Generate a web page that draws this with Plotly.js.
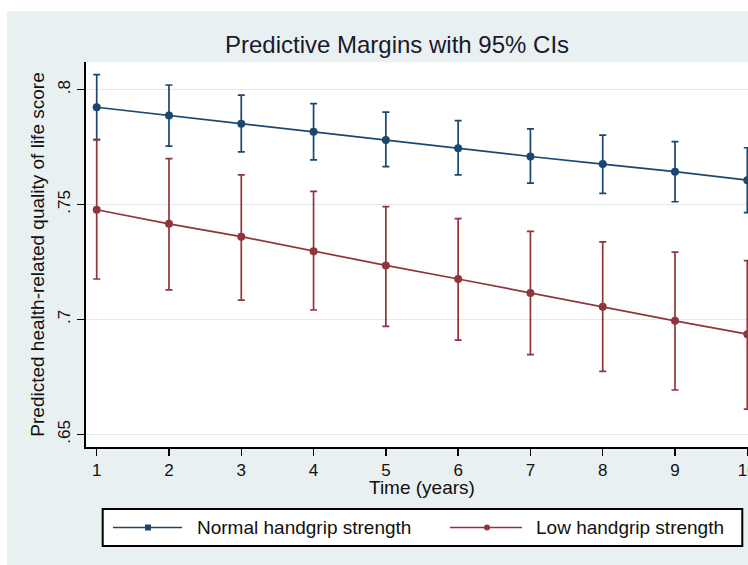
<!DOCTYPE html>
<html>
<head>
<meta charset="utf-8">
<script src="https://cdn.plot.ly/plotly-3.0.1.min.js"></script>
<style>
  html, body { margin: 0; padding: 0; background: #ffffff; width: 748px; height: 565px; overflow: hidden; }
  #chart { position: absolute; left: 7px; top: 11px; width: 770px; height: 554px; }
</style>
</head>
<body>
<div id="chart"></div>
<script>
// ---- data ----
const years = [1, 2, 3, 4, 5, 6, 7, 8, 9, 10];
const xTickLabels = ["1", "2", "3", "4", "5", "6", "7", "8", "9", "10"];
const yTickValues = [0.65, 0.7, 0.75, 0.8];
const yTickLabels = [".65", ".7", ".75", ".8"];

const normalName = "Normal handgrip strength";
const normalMean = [0.7923, 0.7887, 0.7851, 0.7816, 0.7781, 0.7745, 0.7709, 0.7676, 0.7643, 0.7606];
const normalLo   = [0.7781, 0.7754, 0.7729, 0.7694, 0.7665, 0.7629, 0.7593, 0.7548, 0.7512, 0.7465];
const normalHi   = [0.8065, 0.8020, 0.7976, 0.7939, 0.7902, 0.7865, 0.7829, 0.7802, 0.7774, 0.7747];

const lowName = "Low handgrip strength";
const lowMean = [0.7477, 0.7416, 0.7360, 0.7297, 0.7235, 0.7176, 0.7115, 0.7055, 0.6994, 0.6936];
const lowLo   = [0.7176, 0.7129, 0.7084, 0.7041, 0.6970, 0.6910, 0.6847, 0.6774, 0.6693, 0.6610];
const lowHi   = [0.7784, 0.7700, 0.7629, 0.7557, 0.7491, 0.7439, 0.7383, 0.7337, 0.7293, 0.7256];

const titleText = "Predictive Margins with 95% CIs";
const xTitleText = "Time (years)";
const yTitleText = "Predicted health-related quality of life score";

// ---- style ----
const BLUE = "#1a476f";
const RED = "#90353b";
const BG = "#e9f0f2";
const GRID = "#e3ebed";
const FONT = "Liberation Sans, Arial, sans-serif";

const W = 770, H = 554;
const M = { l: 79, r: 19, t: 51, b: 118 };
const plotW = W - M.l - M.r, plotH = H - M.t - M.b;
const px = x => (x - M.l) / plotW;          // div px -> paper x
const py = y => (H - M.b - y) / plotH;      // div px -> paper y

function mkTrace(name, ys, lo, hi, color) {
  return {
    type: "scatter", mode: "lines+markers", name: name,
    x: years, y: ys,
    line: { color: color, width: 1.7 },
    marker: { color: color, size: 8, symbol: "circle" },
    error_y: {
      type: "data", symmetric: false,
      array: hi.map((h, i) => h - ys[i]),
      arrayminus: lo.map((l, i) => ys[i] - l),
      color: color, thickness: 1.7, width: 3.5
    },
    cliponaxis: false,
    showlegend: false
  };
}

const traces = [
  mkTrace(normalName, normalMean, normalLo, normalHi, BLUE),
  mkTrace(lowName, lowMean, lowLo, lowHi, RED)
];

// legend (drawn manually, Stata style)
const legY = 516.5;
const shapes = [
  { type: "rect", xref: "paper", yref: "paper", x0: px(95.7), x1: px(735.3), y0: py(535), y1: py(498),
    line: { color: "#000", width: 2 }, fillcolor: "#ffffff" },
  { type: "line", xref: "paper", yref: "paper", x0: px(106), x1: px(175), y0: py(legY), y1: py(legY),
    line: { color: BLUE, width: 1.6 } },
  { type: "rect", xref: "paper", yref: "paper", x0: px(138), x1: px(144), y0: py(legY + 3), y1: py(legY - 3),
    line: { color: BLUE, width: 0 }, fillcolor: BLUE },
  { type: "line", xref: "paper", yref: "paper", x0: px(443), x1: px(515), y0: py(legY), y1: py(legY),
    line: { color: RED, width: 1.6 } },
  { type: "circle", xref: "paper", yref: "paper", x0: px(477), x1: px(483), y0: py(legY + 3), y1: py(legY - 3),
    line: { color: RED, width: 0 }, fillcolor: RED }
];
const annotations = [
  { xref: "paper", yref: "paper", x: px(188), y: py(legY), xanchor: "left", yanchor: "middle",
    text: normalName, showarrow: false, font: { family: FONT, size: 19, color: "#111" } },
  { xref: "paper", yref: "paper", x: px(527), y: py(legY), xanchor: "left", yanchor: "middle",
    text: lowName, showarrow: false, font: { family: FONT, size: 19, color: "#111" } },
  // x-axis title (placed close under the tick labels, as in the reference)
  { xref: "paper", yref: "paper", x: 0.5, y: py(476), xanchor: "center", yanchor: "middle",
    text: xTitleText, showarrow: false, font: { family: FONT, size: 19, color: "#111" } }
];

const layout = {
  width: W, height: H,
  margin: M,
  paper_bgcolor: BG,
  plot_bgcolor: "#ffffff",
  font: { family: FONT, color: "#111" },
  showlegend: false,
  title: {
    text: titleText,
    font: { family: FONT, size: 24, color: "#1a1a2a" },
    xref: "container", x: 390 / W, xanchor: "center",
    yref: "container", y: 1 - 34 / H, yanchor: "middle"
  },
  xaxis: {
    range: [0.852, 10.148],
    tickvals: years, ticktext: xTickLabels,
    showgrid: false, zeroline: false,
    showline: true, linecolor: "#000", linewidth: 2,
    ticks: "outside", ticklen: 7, tickwidth: 1.5, tickcolor: "#000",
    tickfont: { family: FONT, size: 17, color: "#111" }
  },
  yaxis: {
    range: [0.6445, 0.812],
    tickvals: yTickValues, ticktext: yTickLabels,
    tickangle: -90,
    showgrid: true, gridcolor: GRID, gridwidth: 1.2,
    zeroline: false,
    showline: true, linecolor: "#000", linewidth: 2,
    ticks: "outside", ticklen: 7, tickwidth: 1.5, tickcolor: "#000",
    tickfont: { family: FONT, size: 17, color: "#111" },
    title: { text: yTitleText, font: { family: FONT, size: 19, color: "#111" }, standoff: 6 }
  },
  shapes: shapes,
  annotations: annotations
};

Plotly.newPlot("chart", traces, layout, { displayModeBar: false, staticPlot: true });
</script>
</body>
</html>
